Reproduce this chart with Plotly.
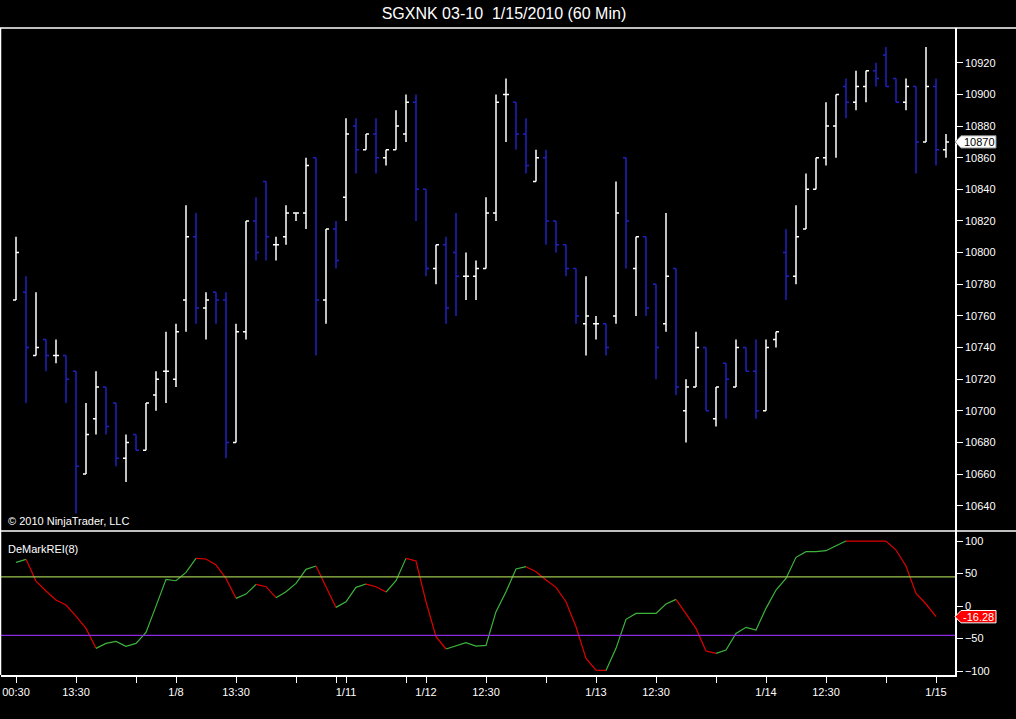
import plotly.graph_objects as go

# 60 min bars, SGX Nikkei 03-10
opens = [10770, 10775, 10735, 10745, 10735, 10735, 10725, 10660, 10695, 10715,
         10705, 10670, 10685, 10675, 10710, 10725, 10720, 10770, 10810, 10765,
         10775, 10770, 10680, 10750, 10820, 10845, 10805, 10810, 10825, 10825,
         10860, 10770, 10815, 10835, 10880, 10865, 10875, 10860, 10865, 10875,
         10895, 10840, 10790, 10805, 10800, 10785, 10785, 10790, 10825, 10900,
         10895, 10875, 10845, 10860, 10820, 10805, 10790, 10755, 10755, 10755,
         10760, 10860, 10790, 10810, 10780, 10755, 10790, 10700, 10715, 10740,
         10695, 10730, 10715, 10740, 10725, 10700, 10745, 10800, 10785, 10815,
         10840, 10860, 10880, 10905, 10895, 10905, 10915, 10925, 10910, 10895,
         10905, 10870, 10905, 10865]
highs = [10810, 10785, 10775, 10745, 10745, 10735, 10725, 10705, 10725, 10715,
         10705, 10685, 10685, 10705, 10725, 10750, 10755, 10830, 10825, 10775,
         10775, 10775, 10755, 10820, 10835, 10845, 10810, 10830, 10825, 10860,
         10860, 10815, 10820, 10885, 10885, 10875, 10885, 10865, 10890, 10900,
         10900, 10840, 10805, 10810, 10825, 10800, 10795, 10835, 10900, 10910,
         10895, 10885, 10865, 10865, 10820, 10805, 10790, 10785, 10760, 10755,
         10845, 10860, 10810, 10810, 10780, 10825, 10790, 10720, 10750, 10740,
         10715, 10730, 10745, 10740, 10745, 10745, 10750, 10815, 10830, 10850,
         10860, 10895, 10900, 10910, 10915, 10915, 10920, 10930, 10910, 10910,
         10905, 10930, 10910, 10875]
lows = [10770, 10705, 10735, 10725, 10730, 10705, 10635, 10660, 10685, 10685,
        10665, 10655, 10675, 10675, 10700, 10705, 10715, 10750, 10755, 10745,
        10755, 10670, 10680, 10745, 10795, 10795, 10795, 10805, 10820, 10815,
        10735, 10755, 10790, 10820, 10850, 10865, 10850, 10855, 10865, 10870,
        10820, 10785, 10780, 10755, 10760, 10770, 10770, 10790, 10820, 10870,
        10865, 10850, 10845, 10805, 10800, 10785, 10755, 10735, 10745, 10735,
        10755, 10790, 10760, 10760, 10720, 10750, 10710, 10680, 10715, 10700,
        10690, 10695, 10715, 10725, 10695, 10700, 10740, 10770, 10780, 10815,
        10840, 10855, 10860, 10885, 10890, 10895, 10905, 10905, 10895, 10890,
        10850, 10870, 10855, 10860]
closes = [10800, 10740, 10740, 10735, 10735, 10720, 10665, 10685, 10715, 10690,
          10670, 10680, 10675, 10705, 10720, 10725, 10750, 10810, 10765, 10770,
          10770, 10680, 10750, 10820, 10800, 10810, 10805, 10825, 10825, 10855,
          10770, 10815, 10795, 10875, 10865, 10875, 10860, 10865, 10880, 10895,
          10840, 10790, 10805, 10765, 10785, 10785, 10790, 10825, 10895, 10900,
          10875, 10855, 10860, 10820, 10805, 10790, 10760, 10760, 10755, 10740,
          10825, 10820, 10810, 10765, 10740, 10785, 10715, 10715, 10740, 10700,
          10715, 10720, 10740, 10725, 10700, 10740, 10750, 10785, 10810, 10840,
          10860, 10880, 10900, 10895, 10905, 10915, 10910, 10905, 10895, 10905,
          10870, 10905, 10865, 10870]

# DeMarkREI(8), not computed on the open bar
rei = [67.3, 71.9, 38.5, 23.2, 9.3, 1.6, -15.3, -34.3, -65.0, -57.4,
       -54.3, -62.0, -57.4, -40.4, 0.0, 41.1, 39.0, 51.9, 73.4, 72.4,
       63.2, 42.6, 11.9, 18.5, 33.4, 29.8, 12.9, 22.1, 34.9, 56.5,
       61.6, 29.8, -2.0, 6.7, 28.8, 33.9, 29.8, 21.6, 39.0, 73.4,
       69.3, 6.7, -47.1, -66.0, -61.5, -56.3, -61.5, -60.4, -8.6, 22.1,
       57.0, 60.6, 52.9, 40.1, 28.8, 6.7, -31.7, -80.4, -98.4, -98.9,
       -65.0, -20.4, -11.2, -11.2, -11.2, 3.2, 10.3, -11.2, -34.3, -69.2,
       -72.7, -67.6, -42.0, -32.7, -36.8, -3.5, 24.7, 42.6, 75.0, 83.7,
       83.7, 85.2, 92.9, 100, 100, 100, 100, 100, 86.2, 61.6,
       19.6, 3.2, -16.28]
# (first bar, last bar, trend) of each coloured stretch of the REI line
rei_runs = [(0, 1, "up"), (1, 8, "dn"), (8, 18, "up"), (18, 22, "dn"),
            (22, 24, "up"), (24, 26, "dn"), (26, 30, "up"), (30, 32, "dn"),
            (32, 35, "up"), (35, 37, "dn"), (37, 39, "up"), (39, 43, "dn"),
            (43, 51, "up"), (51, 59, "dn"), (59, 66, "up"), (66, 70, "dn"),
            (70, 83, "up"), (83, 92, "dn")]
rei_levels = [45, -45]

tick_bars = [0, 6, 12, 16, 22, 28, 32, 33, 39, 41, 47, 53, 58, 64, 70, 75, 81, 87, 92]
tick_text = ["00:30", "13:30", "", "1/8", "13:30", "", "", "1/11", "", "1/12",
             "12:30", "", "1/13", "12:30", "", "1/14", "12:30", "", "1/15"]
price_ticks = list(range(10640, 10921, 20))
rei_ticks = [-100, -50, 0, 50, 100]

W, H = 1016, 719
ML, MR, MT, MB = 1, 61, 28, 44
PW = W - ML - MR
PH = H - MT - MB
split = 144 / PH  # indicator panel share


def px_x(px):
    return (px - ML) / PW


def px_y(py):
    return 1 - (py - MT) / PH


fig = go.Figure()

bars = list(range(len(opens)))
up = [i for i in bars if closes[i] >= opens[i]]
dn = [i for i in bars if closes[i] < opens[i]]
for idx, col in [(up, "white"), (dn, "#2020c0")]:
    fig.add_trace(go.Ohlc(
        x=idx, open=[opens[i] for i in idx], high=[highs[i] for i in idx],
        low=[lows[i] for i in idx], close=[closes[i] for i in idx],
        increasing=dict(line=dict(color=col, width=1.5)),
        decreasing=dict(line=dict(color=col, width=1.5)),
        tickwidth=0.3, hoverinfo="skip", showlegend=False,
        xaxis="x", yaxis="y"))

for a, b, trend in rei_runs:
    fig.add_trace(go.Scatter(
        x=list(range(a, b + 1)), y=rei[a:b + 1], mode="lines",
        line=dict(color="#3cb43c" if trend == "up" else "#e00000", width=1.2),
        hoverinfo="skip", showlegend=False, xaxis="x", yaxis="y2"))

shapes = []
for lv, col in zip(rei_levels, ["#9cc44c", "#8a2be2"]):
    shapes.append(dict(type="line", xref="paper", yref="y2", x0=0, x1=1, y0=lv, y1=lv,
                       line=dict(color=col, width=1.2)))

# frame lines
for yy in [1, split]:
    shapes.append(dict(type="line", xref="paper", yref="paper", x0=px_x(0), x1=px_x(W),
                       y0=yy, y1=yy, line=dict(color="white", width=1.5)))
shapes.append(dict(type="line", xref="paper", yref="paper", x0=px_x(0.5), x1=px_x(0.5),
                   y0=0, y1=1, line=dict(color="white", width=1.5)))


def marker(yref, val, h, fill, border):
    x0, x1, x2 = px_x(955), px_x(961), px_x(996)
    return dict(type="path", xref="paper", yref=yref, layer="above",
                path=f"M{x0},{val} L{x1},{val + h} L{x2},{val + h} L{x2},{val - h} L{x1},{val - h} Z",
                fillcolor=fill, line=dict(color=border, width=1))


shapes.append(marker("y", closes[-1], 3.9, "white", "#888888"))
shapes.append(marker("y2", rei[-1], 9.5, "#ff0000", "white"))

font = "Arial, Liberation Sans, sans-serif"
annotations = [
    dict(xref="paper", yref="y", x=px_x(962), y=closes[-1], xanchor="left", yanchor="middle",
         text=f"{closes[-1]}", showarrow=False, font=dict(color="black", size=11, family=font)),
    dict(xref="paper", yref="y2", x=px_x(961), y=rei[-1], xanchor="left", yanchor="middle",
         text=f"{rei[-1]:.2f}", showarrow=False, font=dict(color="white", size=11, family=font)),
    dict(xref="paper", yref="paper", x=px_x(6), y=px_y(521), xanchor="left", yanchor="middle",
         text="© 2010 NinjaTrader, LLC", showarrow=False, font=dict(color="white", size=11, family=font)),
    dict(xref="paper", yref="paper", x=px_x(6), y=px_y(549), xanchor="left", yanchor="middle",
         text="DeMarkREI(8)", showarrow=False, font=dict(color="white", size=11, family=font)),
]

axis_common = dict(showgrid=False, zeroline=False, showline=True, linecolor="white", linewidth=1.5,
                   ticks="outside", ticklen=6, tickcolor="white", tickwidth=1,
                   tickfont=dict(color="white", size=11, family=font), fixedrange=True)

fig.update_layout(
    width=W, height=H,
    margin=dict(l=ML, r=MR, t=MT, b=MB, pad=0),
    paper_bgcolor="black", plot_bgcolor="black",
    title=dict(text="SGXNK 03-10  1/15/2010 (60 Min)", x=0.496, xanchor="center",
               y=1 - 13 / H, yanchor="middle", yref="container",
               font=dict(color="white", size=16, family="Liberation Sans Narrow, Arial Narrow, Liberation Sans")),
    xaxis=dict(range=[-1.5, 93.9], tickvals=tick_bars, ticktext=tick_text, anchor="y2",
               rangeslider=dict(visible=False), **axis_common),
    yaxis=dict(domain=[split, 1], side="right", range=[10624, 10942], tickvals=price_ticks,
               tickformat="d", anchor="x", **axis_common),
    yaxis2=dict(domain=[0, split], side="right", range=[-106, 115.5], tickvals=rei_ticks,
                tickformat="d", anchor="x", **axis_common),
    shapes=shapes, annotations=annotations, showlegend=False,
)

# page background black and no body margin, so the chart sits at the window's corner
fig.write_html("out.html", config={"displayModeBar": False},
               post_script="document.body.style.margin='0';document.body.style.background='black';")
